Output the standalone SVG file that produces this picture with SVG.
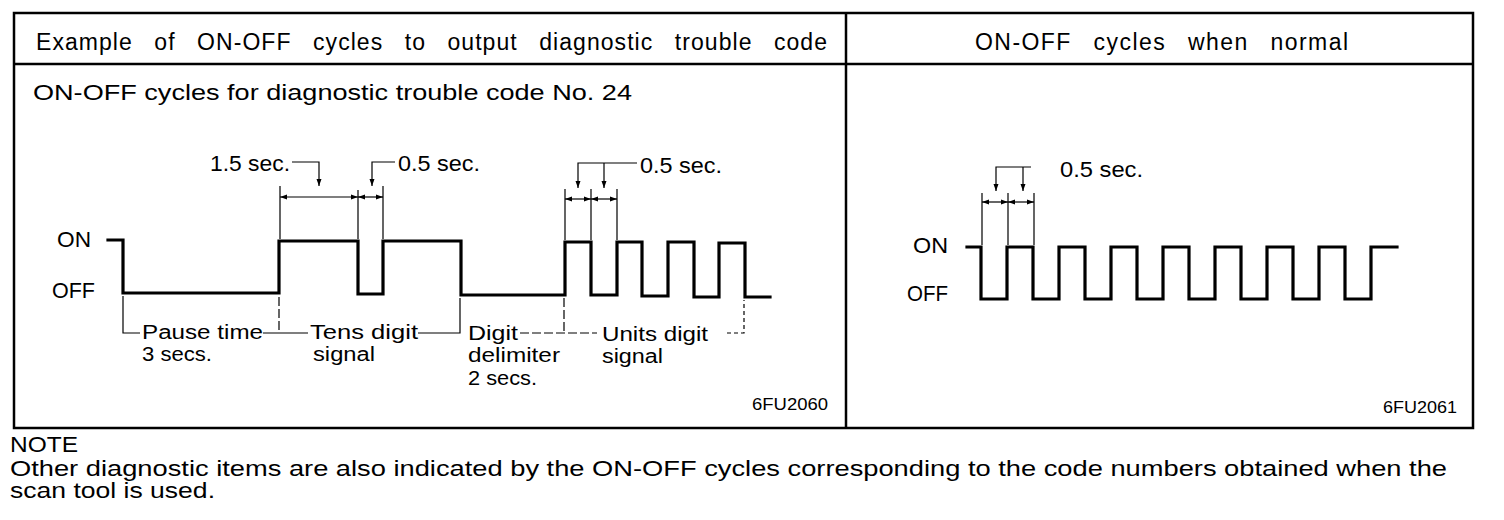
<svg xmlns="http://www.w3.org/2000/svg" width="1504" height="520" viewBox="0 0 1504 520">
<style>
text{font-family:"Liberation Sans",Arial,sans-serif;fill:#000}
.hd{font-size:23px}
.lb{font-size:22px}
.ml{font-size:19.5px}
.sm{font-size:16px}
.frame{fill:none;stroke:#000;stroke-width:2.5}
.wave{fill:none;stroke:#000;stroke-width:3.2;stroke-linejoin:miter;stroke-linecap:square}
.thin{fill:none;stroke:#000;stroke-width:1.2}
.dash{fill:none;stroke:#000;stroke-width:1.2;stroke-dasharray:9 3}
.dot{fill:none;stroke:#000;stroke-width:1.2;stroke-dasharray:4 3}
.dim{fill:none;stroke:#000;stroke-width:1.2;marker-start:url(#arr);marker-end:url(#arr)}
.lead{fill:none;stroke:#000;stroke-width:1.2;marker-end:url(#arr)}
</style>
<defs>
<marker id="arr" markerUnits="userSpaceOnUse" markerWidth="7" markerHeight="6" refX="7" refY="3" orient="auto-start-reverse">
<path d="M0,0.5 L7,3 L0,5.5 z" fill="#000"/>
</marker>
</defs>
<rect width="1504" height="520" fill="#fff"/>

<g id="frame">
<rect class="frame" x="14" y="13" width="1459" height="415"/>
<line class="frame" x1="14" y1="64" x2="1473" y2="64"/>
<line class="frame" x1="846" y1="13" x2="846" y2="428"/>
</g>

<g id="header-left">
<text class="hd" x="36" y="50" textLength="791" lengthAdjust="spacing" word-spacing="14">Example of ON-OFF cycles to output diagnostic trouble code</text>
</g>
<g id="header-right">
<text class="hd" x="975" y="50" textLength="373" lengthAdjust="spacing" word-spacing="14">ON-OFF cycles when normal</text>
</g>

<g id="left-chart">
<text class="lb" x="33" y="100" font-size="24" textLength="599" lengthAdjust="spacingAndGlyphs">ON-OFF cycles for diagnostic trouble code No. 24</text>
<text class="lb" x="57" y="247" textLength="34" lengthAdjust="spacingAndGlyphs">ON</text>
<text class="lb" x="52" y="298" textLength="43" lengthAdjust="spacingAndGlyphs">OFF</text>
<path class="wave" d="M108,240 H123 V293 H279 V241 H358 V294 H383 V241 H461 V295 H565 V242 H591 V295 H617 V242 H642 V296 H668 V242 H694 V297 H719 V243 H745 V297 H770"/>
<text class="lb" x="210" y="171" textLength="80" lengthAdjust="spacingAndGlyphs">1.5 sec.</text>
<text class="lb" x="398" y="171" textLength="82" lengthAdjust="spacingAndGlyphs">0.5 sec.</text>
<text class="lb" x="640" y="173" textLength="82" lengthAdjust="spacingAndGlyphs">0.5 sec.</text>
<text class="ml" x="142" y="339" textLength="121" lengthAdjust="spacingAndGlyphs">Pause time</text>
<text class="ml" x="142" y="361" textLength="70" lengthAdjust="spacingAndGlyphs">3 secs.</text>
<text class="ml" x="310" y="339" textLength="108" lengthAdjust="spacingAndGlyphs">Tens digit</text>
<text class="ml" x="313" y="361" textLength="62" lengthAdjust="spacingAndGlyphs">signal</text>
<text class="ml" x="468" y="340" textLength="50" lengthAdjust="spacingAndGlyphs">Digit</text>
<text class="ml" x="468" y="362" textLength="92" lengthAdjust="spacingAndGlyphs">delimiter</text>
<text class="ml" x="468" y="385" textLength="69" lengthAdjust="spacingAndGlyphs">2 secs.</text>
<text class="ml" x="602" y="341" textLength="106" lengthAdjust="spacingAndGlyphs">Units digit</text>
<text class="ml" x="602" y="363" textLength="61" lengthAdjust="spacingAndGlyphs">signal</text>
<text class="sm" x="752" y="410" textLength="76" lengthAdjust="spacingAndGlyphs">6FU2060</text>
</g>

<g id="right-chart">
<text class="lb" x="913" y="253" textLength="35" lengthAdjust="spacingAndGlyphs">ON</text>
<text class="lb" x="907" y="301" textLength="41" lengthAdjust="spacingAndGlyphs">OFF</text>
<path class="wave" d="M967,247 H981 V299 H1007 V247 H1033 V299 H1059 V247 H1085 V299 H1111 V247 H1137 V299 H1163 V247 H1189 V299 H1215 V247 H1241 V299 H1267 V247 H1293 V299 H1319 V247 H1345 V299 H1371 V247 H1397"/>
<text class="lb" x="1060" y="177" textLength="83" lengthAdjust="spacingAndGlyphs">0.5 sec.</text>
<text class="sm" x="1383" y="413" textLength="74" lengthAdjust="spacingAndGlyphs">6FU2061</text>
</g>

<g id="connectors">
<path class="thin" d="M280,186 V239 M358,190 V239 M383,186 V239"/>
<line class="dim" x1="280" y1="197" x2="358" y2="197"/>
<line class="dim" x1="358" y1="197" x2="383" y2="197"/>
<path class="lead" d="M292,162 H319 V186"/>
<path class="lead" d="M395,162 H372 V186"/>
<path class="thin" d="M565,189 V240 M591,189 V240 M617,189 V240"/>
<line class="dim" x1="565" y1="199" x2="591" y2="199"/>
<line class="dim" x1="591" y1="199" x2="617" y2="199"/>
<path class="lead" d="M637,163 H578 V188"/>
<path class="lead" d="M604,163 V188"/>
<path class="thin" d="M123,296 V333 H140"/>
<path class="thin" d="M263,333 H308"/>
<path class="dash" d="M279,297 V333"/>
<path class="thin" d="M418,333 H460 V298"/>
<path class="dash" d="M520,333 H597"/>
<path class="dash" d="M564,298 V333"/>
<path class="dot" d="M727,333 H744 V300"/>
<path class="thin" d="M982,193 V245 M1008,193 V245 M1034,193 V245"/>
<line class="dim" x1="982" y1="202" x2="1008" y2="202"/>
<line class="dim" x1="1008" y1="202" x2="1034" y2="202"/>
<path class="lead" d="M1031,167 H996 V191"/>
<path class="lead" d="M1023,167 V191"/>
</g>

<g id="note">
<text class="lb" x="10" y="452" textLength="68" lengthAdjust="spacingAndGlyphs">NOTE</text>
<text class="lb" x="10" y="476" textLength="1437" lengthAdjust="spacingAndGlyphs">Other diagnostic items are also indicated by the ON-OFF cycles corresponding to the code numbers obtained when the</text>
<text class="lb" x="10" y="498" textLength="205" lengthAdjust="spacingAndGlyphs">scan tool is used.</text>
</g>
</svg>
